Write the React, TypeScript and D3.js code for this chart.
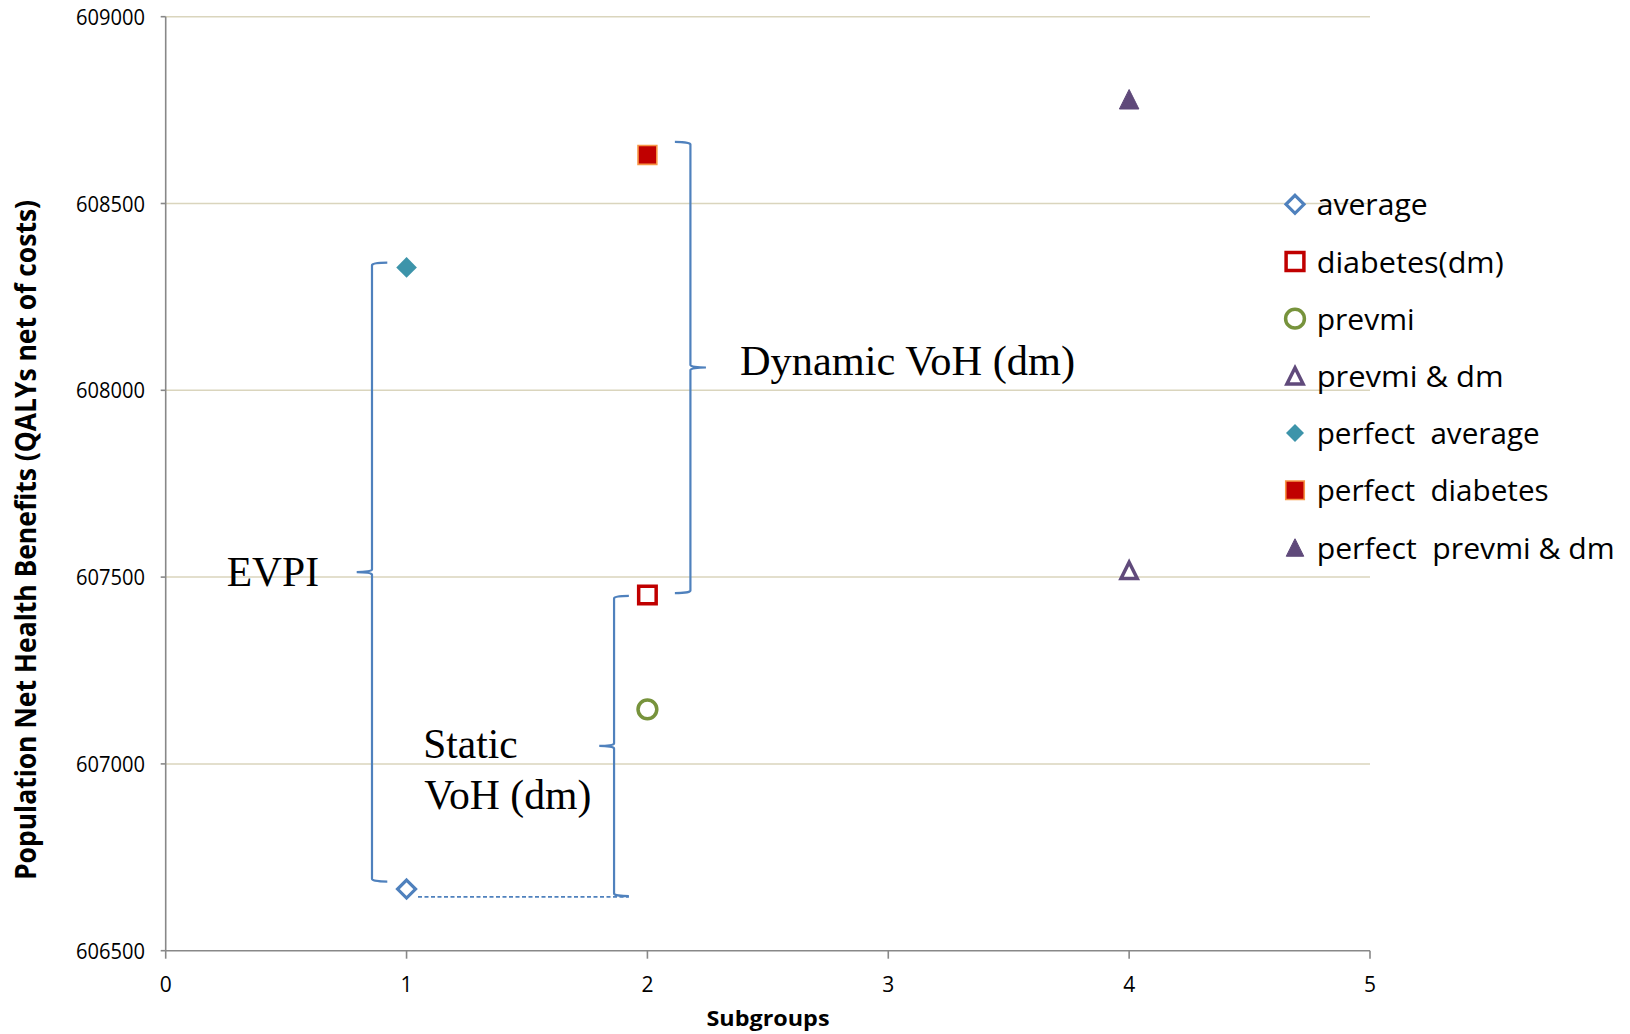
import React from "react";
import * as d3 from "d3";

// ---- data ----
const seriesNames = [
  "average",
  "diabetes(dm)",
  "prevmi",
  "prevmi & dm",
  "perfect  average",
  "perfect  diabetes",
  "perfect  prevmi & dm",
];
const seriesX = [1, 2, 2, 4, 1, 2, 4];
const seriesY = [606665, 607452, 607146, 607518, 608329, 608630, 608779];
const yTicks = [606500, 607000, 607500, 608000, 608500, 609000];
const xTicks = [0, 1, 2, 3, 4, 5];
const legendWidths = [111, 187, 98, 187, 223, 232, 298];

// annotation braces in data units
const braceX0 = [0.793, 1.8, 2.114];
const braceX1 = [0.92, 1.923, 2.243];
const braceYTop = [608342, 607450, 608665];
const braceYBot = [606685, 606646, 607457];
const braceDir = ["left", "left", "right"];
const dashX = [1.0475, 1.923];
const dashY = 606644;

// ---- styles ----
const W = 1630;
const H = 1034;
const M = { left: 165.7, right: 1370, top: 16.7, bottom: 950.7 };
const markerStyles = [
  { shape: "diamond", fill: "#ffffff", stroke: "#4F81BD", sw: 3.2, s: 9.0, ls: 9.0 },
  { shape: "square", fill: "#ffffff", stroke: "#C00000", sw: 3.5, s: 17.5, ls: 17.8 },
  { shape: "circle", fill: "#ffffff", stroke: "#77933C", sw: 3.5, s: 9.4, ls: 9.4 },
  { shape: "triangle", fill: "#ffffff", stroke: "#604A7B", sw: 3.5, s: 16.2, ls: 16.2 },
  { shape: "diamond", fill: "#3D94AA", stroke: "none", sw: 0, s: 10.3, ls: 9 },
  { shape: "square", fill: "#C00000", stroke: "#F79646", sw: 1.6, s: 18.8, ls: 18.5 },
  { shape: "triangle", fill: "#5F497A", stroke: "#5F497A", sw: 1, s: 19.5, ls: 17.5 },
];
const gridColor = "#DAD5BD";
const axisColor = "#888888";
const braceColor = "#4F81BD";
const sans = "'Open Sans', 'Noto Sans', sans-serif";
const serif = "'Liberation Serif', 'DejaVu Serif', serif";

function markerPath(shape: string, s: number): string {
  if (shape === "diamond") return `M0,${-s}L${s},0L0,${s}L${-s},0Z`;
  if (shape === "square") return `M${-s / 2},${-s / 2}h${s}v${s}h${-s}Z`;
  if (shape === "triangle") return `M0,${-s / 2}L${s / 2},${s / 2}L${-s / 2},${s / 2}Z`;
  const p = d3.path();
  p.arc(0, 0, s, 0, Math.PI * 2);
  return p.toString();
}

function bracePath(xl: number, xr: number, yT: number, yB: number, dir: string): string {
  const rx = (xr - xl) / 2;
  const ry = 2.5;
  const xc = xl + rx;
  const yM = (yT + yB) / 2;
  if (dir === "left") {
    return `M${xr},${yT}A${rx},${ry} 0 0 0 ${xc},${yT + ry}L${xc},${yM - ry}A${rx},${ry} 0 0 1 ${xl},${yM}A${rx},${ry} 0 0 1 ${xc},${yM + ry}L${xc},${yB - ry}A${rx},${ry} 0 0 0 ${xr},${yB}`;
  }
  return `M${xl},${yT}A${rx},${ry} 0 0 1 ${xc},${yT + ry}L${xc},${yM - ry}A${rx},${ry} 0 0 0 ${xr},${yM}A${rx},${ry} 0 0 0 ${xc},${yM + ry}L${xc},${yB - ry}A${rx},${ry} 0 0 1 ${xl},${yB}`;
}

export default function App() {
  const x = d3.scaleLinear().domain([0, 5]).range([M.left, M.right]);
  const y = d3.scaleLinear().domain([606500, 609000]).range([M.bottom, M.top]);

  const legendX = 1295;
  const legendY0 = 204.3;
  const legendStep = 57.2;

  return (
    <svg
      width={W}
      height={H}
      style={{ position: "absolute", left: 0, top: 0, background: "#ffffff" }}
    >
      <rect x={0} y={0} width={W} height={H} fill="#ffffff" />
      {/* gridlines */}
      {yTicks
        .filter((t) => t !== 606500)
        .map((t) => (
          <line key={"g" + t} x1={M.left} x2={M.right} y1={y(t)} y2={y(t)} stroke={gridColor} strokeWidth={1.5} />
        ))}
      {/* axes */}
      <line x1={M.left} x2={M.left} y1={M.top} y2={M.bottom} stroke={axisColor} strokeWidth={1.6} />
      <line x1={M.left} x2={M.right} y1={M.bottom} y2={M.bottom} stroke={axisColor} strokeWidth={1.6} />
      {yTicks.map((t) => (
        <g key={"yt" + t}>
          <line x1={M.left - 5} x2={M.left} y1={y(t)} y2={y(t)} stroke={axisColor} strokeWidth={1.6} />
          <text
            x={145}
            y={y(t) + 8}
            textAnchor="end"
            fontFamily={sans}
            fontSize={21}
            textLength={69}
            lengthAdjust="spacingAndGlyphs"
            fill="#000"
          >
            {t}
          </text>
        </g>
      ))}
      {xTicks.map((t) => (
        <g key={"xt" + t}>
          <line x1={x(t)} x2={x(t)} y1={M.bottom} y2={M.bottom + 8} stroke={axisColor} strokeWidth={1.6} />
          <text x={x(t)} y={992} textAnchor="middle" fontFamily={sans} fontSize={21} fill="#000">
            {t}
          </text>
        </g>
      ))}
      {/* axis titles */}
      <text
        x={768}
        y={1025.7}
        textAnchor="middle"
        fontFamily={sans}
        fontWeight="bold"
        fontSize={22}
        textLength={123}
        lengthAdjust="spacingAndGlyphs"
      >
        Subgroups
      </text>
      <text
        transform="translate(36,540) rotate(-90)"
        textAnchor="middle"
        fontFamily={sans}
        fontWeight="bold"
        fontSize={29}
        textLength={680}
        lengthAdjust="spacingAndGlyphs"
      >
        Population Net Health Benefits (QALYs net of costs)
      </text>

      {/* annotation braces */}
      {braceX0.map((bx, i) => (
        <path
          key={"br" + i}
          d={bracePath(x(bx), x(braceX1[i]), y(braceYTop[i]), y(braceYBot[i]), braceDir[i])}
          fill="none"
          stroke={braceColor}
          strokeWidth={2.2}
        />
      ))}
      <line
        x1={x(dashX[0])}
        x2={x(dashX[1])}
        y1={y(dashY)}
        y2={y(dashY)}
        stroke={braceColor}
        strokeWidth={1.8}
        strokeDasharray="4,2.5"
      />

      {/* annotation texts */}
      <text x={226.7} y={586} fontFamily={serif} fontSize={41.5} textLength={92.3} lengthAdjust="spacingAndGlyphs">
        EVPI
      </text>
      <text x={423.3} y={757.7} fontFamily={serif} fontSize={41.5} textLength={94.3} lengthAdjust="spacingAndGlyphs">
        Static
      </text>
      <text x={424.3} y={809.3} fontFamily={serif} fontSize={41.5} textLength={167} lengthAdjust="spacingAndGlyphs">
        VoH (dm)
      </text>
      <text x={740} y={375} fontFamily={serif} fontSize={41.5} textLength={335} lengthAdjust="spacingAndGlyphs">
        Dynamic VoH (dm)
      </text>

      {/* data markers */}
      {seriesX.map((sx, i) => {
        const ms = markerStyles[i];
        return (
          <path
            key={"m" + i}
            d={markerPath(ms.shape, ms.s)}
            transform={`translate(${x(sx)},${y(seriesY[i])})`}
            fill={ms.fill}
            stroke={ms.stroke}
            strokeWidth={ms.sw}
          />
        );
      })}

      {/* legend */}
      {seriesNames.map((name, i) => {
        const ms = markerStyles[i];
        const ly = legendY0 + i * legendStep;
        return (
          <g key={"lg" + i}>
            <path
              d={markerPath(ms.shape, ms.ls)}
              transform={`translate(${legendX},${ly})`}
              fill={ms.fill}
              stroke={ms.stroke}
              strokeWidth={ms.sw}
            />
            <text
              x={1316.7}
              y={ly + 11}
              fontFamily={sans}
              fontSize={30}
              fill="#000"
              style={{ whiteSpace: "pre" }}
              textLength={legendWidths[i]}
              lengthAdjust="spacingAndGlyphs"
            >
              {name}
            </text>
          </g>
        );
      })}
    </svg>
  );
}
